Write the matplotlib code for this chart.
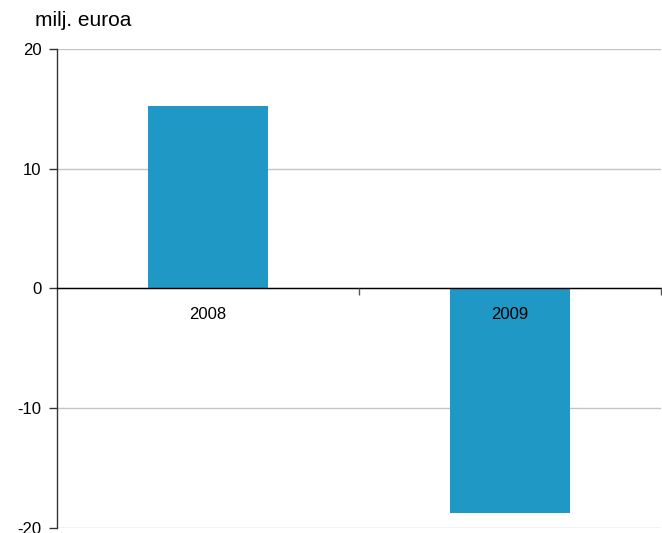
import matplotlib
matplotlib.use("Agg")
import matplotlib.pyplot as plt
from matplotlib.ticker import FixedLocator

years = ["2008", "2009"]
values = [15.25, -18.75]
yticks = [-20, -10, 0, 10, 20]
unit_label = "milj. euroa"

plt.rcParams['font.family'] = ['Liberation Sans', 'DejaVu Sans']

W, H = 662, 533
fig = plt.figure(figsize=(W/100, H/100), dpi=100)
ax = fig.add_axes([57/W, 1-528/H, 604/W, 479/H])

x = list(range(len(years)))
ax.bar(x, values, width=0.40, color='#1F98C6', zorder=3)

ax.set_xlim(-0.5, len(years)-0.5)
ax.set_ylim(-20, 20)
ax.set_yticks(yticks)
ax.set_yticklabels([str(v) for v in yticks], fontsize=12)
ax.yaxis.grid(True, color='#c4c4c4', linewidth=1.0, zorder=0)
ax.set_axisbelow(True)
ax.tick_params(axis='y', length=6, width=1, color='#333333', pad=5)

for s in ['top', 'right']:
    ax.spines[s].set_visible(False)
ax.spines['left'].set_color('#333333')
ax.spines['left'].set_linewidth(1.0)
ax.spines['bottom'].set_position(('data', 0))
ax.spines['bottom'].set_color('black')
ax.spines['bottom'].set_linewidth(1.0)
ax.spines['bottom'].set_zorder(4)

ax.set_xticks(x)
ax.set_xticklabels(years, fontsize=12)
ax.tick_params(axis='x', which='major', length=0, pad=13)
ax.xaxis.set_minor_locator(FixedLocator([0.5, 1.5]))
ax.tick_params(axis='x', which='minor', length=5, width=1, color='#555555', direction='out')
ax.xaxis.set_zorder(5)

fig.text(35/W, 1-20/H, unit_label, fontsize=15, ha='left', va='center')

fig.savefig("out.png", dpi=100)
